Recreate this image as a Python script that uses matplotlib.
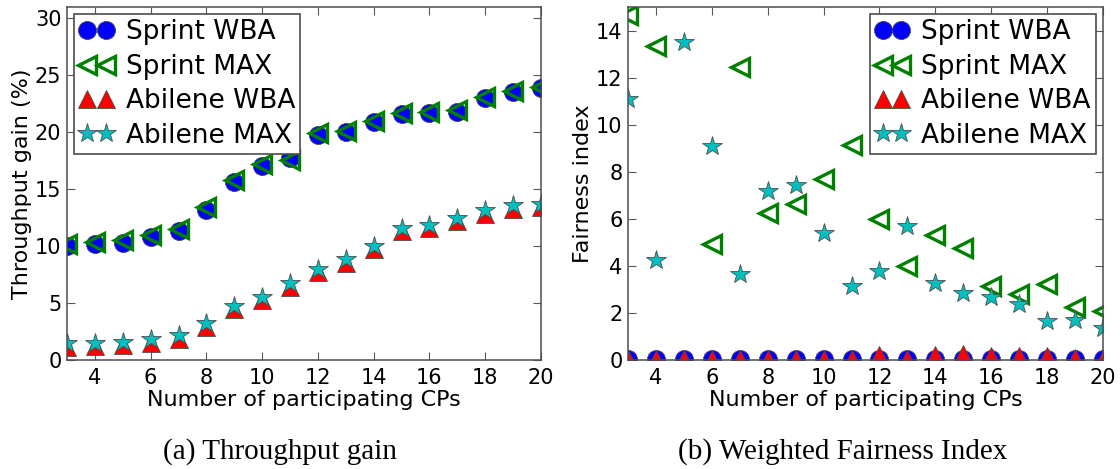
import matplotlib
matplotlib.use("Agg")
import matplotlib.pyplot as plt

# ---------------- data ----------------
cps = [3, 4, 5, 6, 7, 8, 9, 10, 11, 12, 13, 14, 15, 16, 17, 18, 19, 20]

# (a) Throughput gain (%)
thr_sprint_wba = [10.0, 10.2, 10.3, 10.8, 11.3, 13.2, 15.6, 17.0, 17.7, 19.8, 20.0, 20.9, 21.6, 21.7, 21.8, 23.0, 23.5, 23.9]
thr_sprint_max = [10.2, 10.4, 10.5, 10.95, 11.5, 13.4, 15.8, 17.2, 17.6, 19.9, 20.1, 21.0, 21.7, 21.8, 21.95, 23.1, 23.6, 24.0]
thr_abilene_wba = [1.15, 1.2, 1.3, 1.5, 1.85, 2.9, 4.45, 5.25, 6.45, 7.75, 8.55, 9.75, 11.3, 11.55, 12.2, 12.85, 13.3, 13.4]
thr_abilene_max = [1.46, 1.52, 1.6, 1.84, 2.19, 3.21, 4.76, 5.55, 6.77, 8.03, 8.84, 10.04, 11.62, 11.88, 12.5, 13.13, 13.57, 13.72]

# (b) Weighted fairness index
fi_sprint_wba = [0.03] * 18
fi_sprint_max = [14.64, 13.33, 16.5, 4.92, 12.45, 6.23, 6.65, 7.71, 9.13, 6.01, 3.99, 5.31, 4.74, 3.14, 2.79, 3.23, 2.26, 2.08]
fi_abilene_wba = [0.05, 0.05, 0.05, 0.05, 0.05, 0.05, 0.05, 0.05, 0.05, 0.2, 0.05, 0.2, 0.25, 0.15, 0.15, 0.15, 0.1, 0.05]
fi_abilene_max = [11.1, 4.24, 13.51, 9.1, 3.65, 7.19, 7.45, 5.38, 3.14, 3.79, 5.69, 3.28, 2.86, 2.66, 2.38, 1.66, 1.70, 1.35]

labels = ["Sprint WBA", "Sprint MAX", "Abilene WBA", "Abilene MAX"]
xlabel = "Number of participating CPs"
ylabel_a = "Throughput gain (%)"
ylabel_b = "Fairness index"
caption_a = "(a) Throughput gain"
caption_b = "(b) Weighted Fairness Index"

# ---------------- style ----------------
plt.rcParams['font.family'] = ['DejaVu Sans']
W, H = 1120, 469
fig = plt.figure(figsize=(W / 100, H / 100), dpi=100)

def frac_rect(x0, y0, x1, y1):
    return [x0 / W, (H - y1) / H, (x1 - x0) / W, (y1 - y0) / H]

ax1 = fig.add_axes(frac_rect(67, 7, 541, 360))
ax2 = fig.add_axes(frac_rect(628, 7, 1103, 360))

MS = 13
edge = '0.3'

def draw(ax, s_wba, s_max, a_wba, a_max):
    ax.plot(cps, s_wba, linestyle='none', marker='o', ms=MS, mfc='#0000ff',
            mec=edge, mew=0.6, label=labels[0])
    ax.plot(cps, s_max, linestyle='none', marker='<', ms=MS, mfc='none',
            mec='#008000', mew=2.4, label=labels[1])
    ax.plot(cps, a_wba, linestyle='none', marker='^', ms=MS, mfc='#ff0000',
            mec=edge, mew=0.6, label=labels[2])
    ax.plot(cps, a_max, linestyle='none', marker='*', ms=MS + 2, mfc='#00bfbf',
            mec=edge, mew=0.6, label=labels[3])
    ax.set_xlim(3, 20)
    ax.set_xticks([4, 6, 8, 10, 12, 14, 16, 18, 20])
    ax.tick_params(direction='in', top=True, right=True, length=6, width=0.8,
                   color='0.35', labelsize=15)
    ax.tick_params(axis='x', pad=6)
    ax.tick_params(axis='y', pad=4)
    for s in ax.spines.values():
        s.set_color('0.3')
        s.set_linewidth(1.1)
    ax.set_xlabel(xlabel, fontsize=16, labelpad=1)

draw(ax1, thr_sprint_wba, thr_sprint_max, thr_abilene_wba, thr_abilene_max)
ax1.set_ylim(0, 31)
ax1.set_yticks([0, 5, 10, 15, 20, 25, 30])
ax1.set_ylabel(ylabel_a, fontsize=16, labelpad=2)

draw(ax2, fi_sprint_wba, fi_sprint_max, fi_abilene_wba, fi_abilene_max)
ax2.set_ylim(0, 15)
ax2.set_yticks([0, 2, 4, 6, 8, 10, 12, 14])
ax2.set_ylabel(ylabel_b, fontsize=16, labelpad=2)

leg_kw = dict(fontsize=19, numpoints=2, handlelength=1.3, handletextpad=0.45,
              labelspacing=0.32, borderpad=0.2, borderaxespad=0.27,
              fancybox=False, framealpha=1, edgecolor='0.3')
l1 = ax1.legend(loc='upper left', **leg_kw)
l2 = ax2.legend(loc='upper right', **leg_kw)
for l in (l1, l2):
    l.get_frame().set_linewidth(1.2)

fig.text(280 / W, (H - 452) / H, caption_a, family='Liberation Serif',
         fontsize=21, ha='center', va='center')
fig.text(843 / W, (H - 452) / H, caption_b, family='Liberation Serif',
         fontsize=21, ha='center', va='center')

fig.savefig('out.png', dpi=100)
